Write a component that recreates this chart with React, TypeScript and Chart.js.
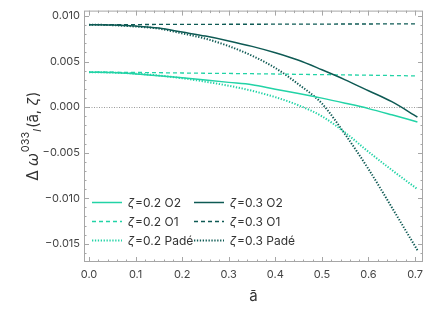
import React, { useEffect, useRef } from "react";
import { Chart, registerables } from "chart.js";

Chart.register(...registerables);

// ā values
const aVals = [0, 0.05, 0.1, 0.15, 0.2, 0.25, 0.3, 0.35, 0.4, 0.45, 0.5, 0.55, 0.6, 0.65, 0.705];

// ζ = 0.2
const z2O2 = [0.00384, 0.0038, 0.00365, 0.00345, 0.00322, 0.00297, 0.00272, 0.00247, 0.00197, 0.0015, 0.00099, 0.00043, -0.00016, -0.00084, -0.00162];
const z2O1 = [0.00384, 0.00383, 0.00381, 0.00378, 0.00375, 0.00372, 0.0037, 0.00367, 0.00364, 0.0036, 0.00357, 0.00354, 0.00351, 0.00347, 0.00343];
const z2Pade = [0.00384, 0.0038, 0.00368, 0.00347, 0.00318, 0.0028, 0.00235, 0.0018, 0.0011, 0.0002, -0.001, -0.0028, -0.0049, -0.0069, -0.009];

// ζ = 0.3
const z3O2 = [0.00906, 0.00902, 0.0089, 0.00868, 0.00824, 0.0078, 0.00727, 0.00667, 0.00597, 0.00515, 0.0041, 0.003, 0.0018, 0.0006, -0.00108];
const z3O1 = [0.00906, 0.00907, 0.00907, 0.00908, 0.00909, 0.00909, 0.0091, 0.0091, 0.00911, 0.00912, 0.00912, 0.00913, 0.00913, 0.00914, 0.00915];
const z3Pade = [0.00906, 0.009, 0.00885, 0.00862, 0.0081, 0.00752, 0.0067, 0.00565, 0.0043, 0.0025, 0.0004, -0.003, -0.0068, -0.011, -0.0157];

const yTicks = [-0.015, -0.01, -0.005, 0, 0.005, 0.01];
const xTicks = [0, 0.1, 0.2, 0.3, 0.4, 0.5, 0.6, 0.7];

const LIGHT = "#22d3a6";
const DARK = "#0e5a54";
const FONT = "Inter, 'Noto Sans', sans-serif";

const pts = (arr: number[]) => aVals.map((a, i) => ({ x: a, y: arr[i] }));

const solid: number[] = [];
const dashed = [4, 3];
const dotted = [1.3, 1.6];

const series = [
  { label: "0.2 O2", zeta: "0.2", name: "O2", data: z2O2, color: LIGHT, dash: solid, width: 1.5 },
  { label: "0.3 O2", zeta: "0.3", name: "O2", data: z3O2, color: DARK, dash: solid, width: 1.5 },
  { label: "0.2 O1", zeta: "0.2", name: "O1", data: z2O1, color: LIGHT, dash: dashed, width: 1.3 },
  { label: "0.3 O1", zeta: "0.3", name: "O1", data: z3O1, color: DARK, dash: dashed, width: 1.3 },
  { label: "0.2 Padé", zeta: "0.2", name: "Padé", data: z2Pade, color: LIGHT, dash: dotted, width: 2 },
  { label: "0.3 Padé", zeta: "0.3", name: "Padé", data: z3Pade, color: DARK, dash: dotted, width: 2 },
];

const decorPlugin = {
  id: "decor",
  beforeDatasetsDraw(chart: any) {
    const { ctx, chartArea, scales } = chart;
    const y0 = Math.round(scales.y.getPixelForValue(0)) + 0.5;
    ctx.save();
    ctx.strokeStyle = "#9a9a9a";
    ctx.lineWidth = 1;
    ctx.setLineDash([1, 1.5]);
    ctx.beginPath();
    ctx.moveTo(chartArea.left, y0);
    ctx.lineTo(chartArea.right, y0);
    ctx.stroke();
    ctx.restore();
  },
  afterDraw(chart: any) {
    const { ctx, chartArea, scales } = chart;
    const { left, right, top, bottom } = chartArea;
    const x = scales.x;
    const y = scales.y;
    ctx.save();
    ctx.strokeStyle = "#a6a6a6";
    ctx.lineWidth = 1;
    ctx.setLineDash([]);
    ctx.strokeRect(left + 0.5, top + 0.5, right - left - 1, bottom - top - 1);
    ctx.beginPath();
    for (let k = -17; k <= 10; k++) {
      const v = k / 1000;
      const py = Math.round(y.getPixelForValue(v)) + 0.5;
      if (py < top || py > bottom) continue;
      const len = k % 5 === 0 ? 5 : 2.5;
      ctx.moveTo(left, py);
      ctx.lineTo(left + len, py);
      ctx.moveTo(right, py);
      ctx.lineTo(right - len, py);
    }
    for (let k = 0; k <= 35; k++) {
      const v = k * 0.02;
      const px = Math.round(x.getPixelForValue(v)) + 0.5;
      if (px < left || px > right) continue;
      const len = k % 5 === 0 ? 5 : 2.5;
      ctx.moveTo(px, bottom);
      ctx.lineTo(px, bottom - len);
      ctx.moveTo(px, top);
      ctx.lineTo(px, top + len);
    }
    ctx.stroke();

    // legend
    const colX = [92, 194];
    const rowY = [202, 221, 240];
    series.forEach((s, i) => {
      const cx = colX[i % 2];
      const cy = rowY[Math.floor(i / 2)];
      ctx.strokeStyle = s.color;
      ctx.lineWidth = s.width;
      ctx.setLineDash(s.dash);
      ctx.beginPath();
      ctx.moveTo(cx, cy + 0.5);
      ctx.lineTo(cx + 30, cy + 0.5);
      ctx.stroke();
      ctx.setLineDash([]);
      ctx.fillStyle = "#333";
      ctx.textBaseline = "middle";
      ctx.textAlign = "left";
      ctx.font = `italic 12px ${FONT}`;
      const tx = cx + 36;
      ctx.fillText("ζ", tx, cy + 1);
      const w = ctx.measureText("ζ").width;
      ctx.font = `12px ${FONT}`;
      ctx.fillText(`=${s.zeta} ${s.name}`, tx + w + 1, cy + 1);
    });

    // y title
    ctx.translate(38, 181);
    ctx.rotate(-Math.PI / 2);
    ctx.fillStyle = "#333";
    ctx.textBaseline = "alphabetic";
    ctx.textAlign = "left";
    let pos = 0;
    ctx.font = `16px ${FONT}`;
    ctx.fillText("Δ", pos, 0);
    pos += ctx.measureText("Δ").width + 4;
    ctx.font = `italic 16px ${FONT}`;
    ctx.fillText("ω", pos, 0);
    pos += ctx.measureText("ω").width + 1;
    ctx.font = `11px ${FONT}`;
    ctx.fillText("033", pos, -9);
    pos += ctx.measureText("033").width;
    ctx.font = `italic 11px ${FONT}`;
    ctx.fillText("l", pos, 3);
    pos += ctx.measureText("l").width + 1;
    ctx.font = `15px ${FONT}`;
    ctx.fillText("(ā, ", pos, 0);
    pos += ctx.measureText("(ā, ").width;
    ctx.font = `italic 15px ${FONT}`;
    ctx.fillText("ζ", pos, 0);
    pos += ctx.measureText("ζ").width + 1;
    ctx.font = `15px ${FONT}`;
    ctx.fillText(")", pos, 0);
    ctx.restore();
  },
};

function App() {
  const ref = useRef<HTMLCanvasElement>(null);
  useEffect(() => {
    const chart = new Chart(ref.current as HTMLCanvasElement, {
      type: "line",
      data: {
        datasets: series.map((s) => ({
          label: s.label,
          data: pts(s.data),
          borderColor: s.color,
          backgroundColor: s.color,
          borderWidth: s.width,
          borderDash: s.dash,
          pointRadius: 0,
          fill: false,
          cubicInterpolationMode: "monotone" as const,
        })),
      },
      options: {
        animation: false,
        responsive: true,
        maintainAspectRatio: false,
        layout: { padding: { left: 0, top: 7, right: 13, bottom: 0 } },
        plugins: { legend: { display: false }, tooltip: { enabled: false } },
        scales: {
          x: {
            type: "linear",
            min: -0.0107,
            max: 0.717,
            afterFit: (s: any) => {
              s.height = 47;
            },
            afterBuildTicks: (s: any) => {
              s.ticks = xTicks.map((v) => ({ value: v }));
            },
            grid: { display: false, drawTicks: false },
            border: { display: false },
            ticks: {
              padding: 6,
              color: "#444",
              font: { family: FONT, size: 11 },
              maxRotation: 0,
              callback: (v: any) => Number(v).toFixed(1),
            },
            title: {
              display: true,
              text: "ā",
              color: "#333",
              font: { family: FONT, size: 15 },
              padding: { top: 0, bottom: 4 },
            },
          },
          y: {
            type: "linear",
            min: -0.017,
            max: 0.0106,
            afterFit: (s: any) => {
              s.width = 84;
            },
            afterBuildTicks: (s: any) => {
              s.ticks = yTicks.map((v) => ({ value: v }));
            },
            grid: { display: false, drawTicks: false },
            border: { display: false },
            ticks: {
              padding: 4,
              color: "#444",
              font: { family: FONT, size: 11 },
              callback: (v: any) => {
                const n = Number(v);
                const s = Math.abs(n).toFixed(3);
                return n < -1e-9 ? "\u2212" + s : s;
              },
            },
          },
        },
      },
      plugins: [decorPlugin],
    });
    return () => chart.destroy();
  }, []);
  return (
    <div style={{ position: "absolute", left: 0, top: 0, width: 436, height: 309, background: "#fff" }}>
      <canvas ref={ref} />
    </div>
  );
}

export default App;
